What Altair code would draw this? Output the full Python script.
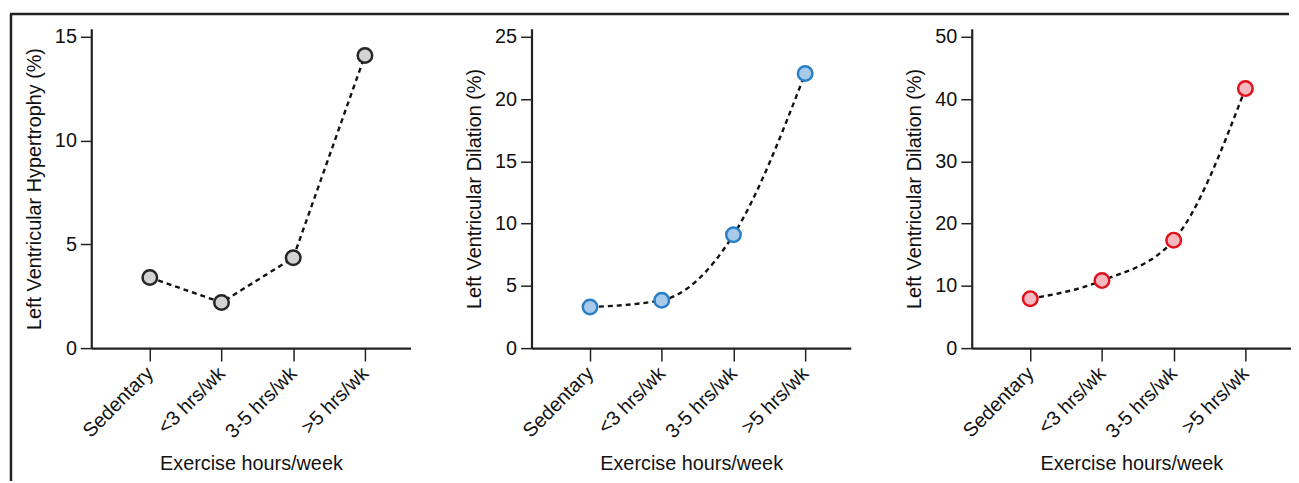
import json
import altair as alt
import pandas as pd

categories = ["Sedentary", "<3 hrs/wk", "3-5 hrs/wk", ">5 hrs/wk"]
lvh = [3.4, 2.2, 4.35, 14.1]
lvd_blue = [3.3, 3.85, 9.1, 22.05]
lvd_red = [7.95, 10.85, 17.35, 41.7]

x_title = "Exercise hours/week"
y_titles = ["Left Ventricular Hypertrophy (%)", "Left Ventricular Dilation (%)", "Left Ventricular Dilation (%)"]
y_ticks = [[0, 5, 10, 15], [0, 5, 10, 15, 20, 25], [0, 10, 20, 30, 40, 50]]
y_max = [15.38, 25.64, 51.3]
fills = ["#d3d3d3", "#a9c9e9", "#f5b9bf"]
strokes = ["#262626", "#2a80c8", "#e0121c"]
interps = ["linear", "monotone", "monotone"]
series = [lvh, lvd_blue, lvd_red]

FONT = "Liberation Sans"
label_expr = json.dumps(categories) + "[datum.value]"

W = 322
H = 322


def panel(i):
    df = pd.DataFrame({"idx": list(range(len(categories))), "cat": categories, "val": series[i]})
    x = alt.X(
        "idx:Q",
        scale=alt.Scale(domain=[-0.816, 3.636], nice=False, zero=False),
        axis=alt.Axis(
            values=[0, 1, 2, 3],
            labelExpr=label_expr,
            title=x_title,
            labelAngle=-45,
            labelAlign="right",
            labelBaseline="middle",
            labelOverlap=False,
            labelBound=False,
            labelFlush=False,
            labelFontSize=20,
            tickSize=13,
            labelPadding=9,
            titlePadding=12,
            grid=False,
        ),
    )
    y = alt.Y(
        "val:Q",
        scale=alt.Scale(domain=[0, y_max[i]], nice=False),
        axis=alt.Axis(
            values=y_ticks[i],
            title=y_titles[i],
            labelFontSize=20,
            tickSize=11,
            labelPadding=4,
            titlePadding=10,
            labelOverlap=False,
            grid=False,
        ),
    )
    base = alt.Chart(df)
    line = base.mark_line(
        color="#111111", strokeWidth=2.4, strokeDash=[5, 4], interpolate=interps[i]
    ).encode(x=x, y=y)
    pts = base.mark_point(
        filled=True, fill=fills[i], stroke=strokes[i], strokeWidth=2.5, size=215, opacity=1
    ).encode(x=x, y=y)
    layers = [line, pts]
    if i == 0:
        fdf = pd.DataFrame({"a": [0]})
        left = alt.Chart(fdf).mark_rule(color="#222222", strokeWidth=2.5, clip=False).encode(
            x=alt.value(-81), y=alt.value(-15), y2=alt.value(456)
        )
        top = alt.Chart(fdf).mark_rule(color="#222222", strokeWidth=2.5, clip=False).encode(
            x=alt.value(-82), x2=alt.value(1208), y=alt.value(-15)
        )
        layers += [left, top]
    return alt.layer(*layers).properties(width=W, height=H)


chart = (
    alt.hconcat(panel(0), panel(1), panel(2), spacing=122, bounds="flush")
    .properties(padding={"left": 0, "top": 2, "right": 0, "bottom": 0})
    .configure_view(stroke=None)
    .configure_axis(
        labelFont=FONT,
        titleFont=FONT,
        labelFontSize=20,
        titleFontSize=20,
        labelColor="#111111",
        titleColor="#111111",
        titleFontWeight="normal",
        domainColor="#222222",
        domainWidth=2.2,
        tickColor="#222222",
        tickWidth=1.5,
    )
)

chart.save("out.html", embed_options={"renderer": "svg", "actions": False})
